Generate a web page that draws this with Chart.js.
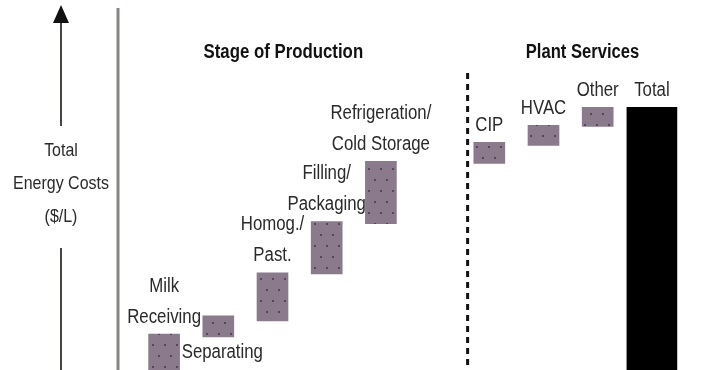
<!DOCTYPE html>
<html>
<head>
<meta charset="utf-8">
<script src="https://cdn.jsdelivr.net/npm/chart.js@4.4.1/dist/chart.umd.min.js"></script>
<style>
  html, body { margin: 0; padding: 0; background: #ffffff; }
  #wrap { width: 707px; height: 370px; position: relative; }
</style>
</head>
<body>
<div id="wrap"><canvas id="c" width="707" height="370"></canvas></div>
<script>
// ---- data (relative energy cost, Total = 100) ----
const categories = ['Milk Receiving', 'Separating', 'Homog./Past.', 'Filling/Packaging',
  'Refrigeration/Cold Storage', '', 'CIP', 'HVAC', 'Other', 'Total'];
const labelLines = [['Milk', 'Receiving'], ['Separating'], ['Homog./', 'Past.'], ['Filling/', 'Packaging'],
  ['Refrigeration/', 'Cold Storage'], [], ['CIP'], ['HVAC'], ['Other'], ['Total']];
const labelBelow = [false, true, false, false, false, false, false, false, false, false];
const stepStart = [0, 12.6, 18.7, 36.6, 55.7, null, 78.6, 85.5, 92.7, null];
const stepEnd   = [13.7, 20.6, 37.0, 56.5, 79.4, null, 86.6, 93.1, 100, null];
const totalValue = 100;
const groupTitles = ['Stage of Production', 'Plant Services'];
const axisTitle = ['Total', 'Energy Costs', '($/L)'];

const FONT = '"Liberation Sans", Arial, sans-serif';
const SQUEEZE = 0.84;

// dotted mauve fill pattern
function makePattern() {
  const t = document.createElement('canvas');
  t.width = 12; t.height = 22;
  const g = t.getContext('2d');
  g.fillStyle = '#8a7a8c';
  g.fillRect(0, 0, 12, 22);
  g.fillStyle = '#54485a';
  g.fillRect(2, 3, 2, 2);
  g.fillRect(8, 14, 2, 2);
  return g.createPattern(t, 'repeat');
}
const pattern = makePattern();

const stepData = categories.map((c, i) => (stepStart[i] === null ? null : [stepStart[i], stepEnd[i]]));
const totalData = categories.map((c, i) => (c === 'Total' ? [0, totalValue] : null));

// condensed text: draw with horizontal squeeze
function narrowText(ctx, text, x, y, sx) {
  ctx.save();
  ctx.translate(x, y);
  ctx.scale(sx, 1);
  ctx.fillText(text, 0, 0);
  ctx.restore();
}

const decorPlugin = {
  id: 'decor',
  afterDatasetsDraw(chart) {
    const ctx = chart.ctx;
    const x = chart.scales.x;
    const area = chart.chartArea;
    ctx.save();

    // vertical axis line
    ctx.strokeStyle = '#8c8484';
    ctx.lineWidth = 3;
    ctx.beginPath();
    ctx.moveTo(area.left - 19, 8);
    ctx.lineTo(area.left - 19, 370);
    ctx.stroke();

    // arrow with axis title
    const ax = 61;
    ctx.strokeStyle = '#4a4444';
    ctx.lineWidth = 2;
    ctx.beginPath();
    ctx.moveTo(ax, 20); ctx.lineTo(ax, 126);
    ctx.moveTo(ax, 248); ctx.lineTo(ax, 370);
    ctx.stroke();
    ctx.fillStyle = '#111';
    ctx.beginPath();
    ctx.moveTo(ax, 5); ctx.lineTo(ax - 8, 23); ctx.lineTo(ax + 8, 23); ctx.closePath();
    ctx.fill();

    ctx.fillStyle = '#2a2a2a';
    ctx.font = '19px ' + FONT;
    ctx.textAlign = 'center';
    ctx.textBaseline = 'middle';
    axisTitle.forEach((t, i) => narrowText(ctx, t, ax, 151 + i * 33, SQUEEZE));

    // dashed divider
    const dx = x.getPixelForValue(5.6);
    ctx.strokeStyle = '#111';
    ctx.lineWidth = 3;
    ctx.setLineDash([6, 5]);
    ctx.beginPath();
    ctx.moveTo(dx, 73); ctx.lineTo(dx, 370);
    ctx.stroke();
    ctx.setLineDash([]);

    // group titles
    ctx.fillStyle = '#111';
    ctx.font = 'bold 20px ' + FONT;
    narrowText(ctx, groupTitles[0], x.getPixelForValue(2.2), 52, 0.84);
    narrowText(ctx, groupTitles[1], x.getPixelForValue(7.72), 52, 0.83);

    // bar labels
    ctx.font = '20px ' + FONT;
    ctx.fillStyle = '#2a2a2a';
    const LINE = 31;
    categories.forEach((c, i) => {
      const lines = labelLines[i];
      if (!lines.length) return;
      let el = null;
      chart.data.datasets.forEach((ds, di) => {
        if (ds.data[i] !== null) el = chart.getDatasetMeta(di).data[i];
      });
      if (!el) return;
      const top = Math.min(el.y, el.base);
      const bottom = Math.max(el.y, el.base);
      if (labelBelow[i]) {
        lines.forEach((t, k) => narrowText(ctx, t, el.x + 4, bottom + 16 + k * LINE, SQUEEZE));
      } else {
        const n = lines.length;
        lines.forEach((t, k) => narrowText(ctx, t, el.x, top - 17 - (n - 1 - k) * LINE, SQUEEZE));
      }
    });
    ctx.restore();
  }
};

new Chart(document.getElementById('c'), {
  type: 'bar',
  data: {
    labels: categories,
    datasets: [
      { data: stepData, backgroundColor: pattern, borderWidth: 0, barThickness: 31, grouped: false },
      { data: totalData, backgroundColor: '#000000', borderWidth: 0, barThickness: 50, grouped: false }
    ]
  },
  options: {
    responsive: false,
    animation: false,
    layout: { padding: { left: 137, right: 28, top: 10, bottom: 0 } },
    plugins: { legend: { display: false }, tooltip: { enabled: false } },
    scales: {
      x: { display: false },
      y: { display: false, min: 0, max: 137 }
    }
  },
  plugins: [decorPlugin]
});
</script>
</body>
</html>
